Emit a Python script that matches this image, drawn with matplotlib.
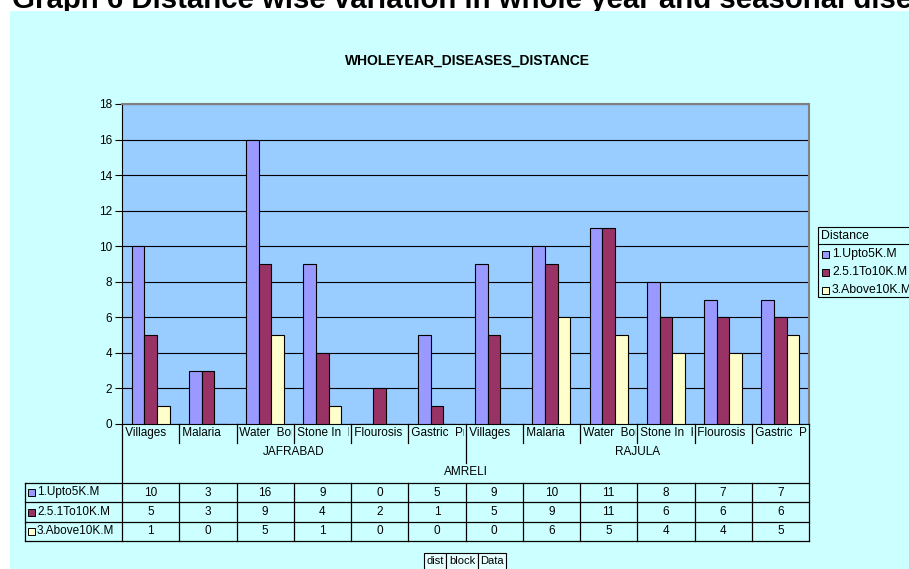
import matplotlib
matplotlib.use("Agg")
import matplotlib.pyplot as plt
from matplotlib import transforms
from matplotlib.patches import Rectangle
from matplotlib.lines import Line2D

plt.rcParams['font.family'] = ['Liberation Sans', 'DejaVu Sans']

# data
diseases = ['Villages', 'Malaria', 'Water  Borne', 'Stone In  Kidney', 'Flourosis', 'Gastric  Problem',
            'Villages', 'Malaria', 'Water  Borne', 'Stone In  Kidney', 'Flourosis', 'Gastric  Problem']
blocks = ['JAFRABAD', 'RAJULA']
district = 'AMRELI'
series_names = ['1.Upto5K.M', '2.5.1To10K.M', '3.Above10K.M']
upto5 = [10, 3, 16, 9, 0, 5, 9, 10, 11, 8, 7, 7]
to10 = [5, 3, 9, 4, 2, 1, 5, 9, 11, 6, 6, 6]
above10 = [1, 0, 5, 1, 0, 0, 0, 6, 5, 4, 4, 5]
colors = ['#9999FF', '#993366', '#FFFFCC']

W, H = 909, 569
def fx(px):
    return px / W
def fy(py):
    return 1 - py / H

fig = plt.figure(figsize=(W / 100, H / 100), dpi=100, facecolor='white')

# page heading (mostly cut off at the top) and cyan chart area
fig.text(fx(12), fy(8.5), 'Graph 6 Distance wise variation in whole year and seasonal diseases',
         fontsize=21.2, fontweight='bold', va='baseline', ha='left', zorder=-3)
fig.patches.append(Rectangle((fx(10), 0), 1, fy(11), transform=fig.transFigure,
                             facecolor='#CCFFFF', edgecolor='none', zorder=-2))

ax = fig.add_axes([fx(122), fy(424), fx(809) - fx(122), (424 - 104) / H])
ax.set_facecolor('#99CCFF')

x = list(range(len(diseases)))
bw = 0.22
all_series = [upto5, to10, above10]
for i, vals in enumerate(all_series):
    ax.bar([k + (i - 1) * bw for k in x], vals, width=bw, color=colors[i],
           edgecolor='black', linewidth=0.8, zorder=3)

ax.set_xlim(-0.5, len(diseases) - 0.5)
ax.set_ylim(0, 18)
ax.set_yticks(range(0, 19, 2))
ax.set_xticks([])
ax.tick_params(axis='y', direction='out', length=5, width=0.8, labelsize=8.5, pad=2)
ax.grid(axis='y', color='black', linewidth=0.8, zorder=1)
ax.set_axisbelow(True)
for s in ['top', 'right']:
    ax.spines[s].set_color('#808080')
    ax.spines[s].set_linewidth(1.5)
ax.spines['left'].set_linewidth(0.8)
ax.spines['bottom'].set_linewidth(0.8)

fig.text(fx(467), fy(61), 'WHOLEYEAR_DISEASES_DISTANCE', fontsize=10, fontweight='bold',
         ha='center', va='center')

blend = transforms.blended_transform_factory(ax.transData, fig.transFigure)
lw = 0.9

def vline(xd, py0, py1):
    fig.lines.append(Line2D([xd, xd], [fy(py0), fy(py1)], transform=blend, color='black', linewidth=lw))

def hline(px0, px1, py):
    fig.lines.append(Line2D([fx(px0), fx(px1)], [fy(py), fy(py)], transform=fig.transFigure,
                            color='black', linewidth=lw))

# category labels, clipped to their cells
for k, name in enumerate(diseases):
    t = fig.text(k - 0.5, fy(433), ' ' + name, transform=blend, fontsize=8.5, ha='left', va='center')
    clip = transforms.Bbox([[k - 0.5, fy(445)], [k + 0.47, fy(424)]])
    t.set_clip_box(transforms.TransformedBbox(clip, blend))
    t.set_clip_on(True)

# separators of the multi-level axis
for k in range(1, len(diseases)):
    if k == 6:
        vline(k - 0.5, 424, 463)
    else:
        vline(k - 0.5, 424, 443)
vline(-0.5, 424, 541)
vline(len(diseases) - 0.5, 424, 541)

fig.text(2.5, fy(452), blocks[0], transform=blend, fontsize=8.5, ha='center', va='center')
fig.text(8.5, fy(452), blocks[1], transform=blend, fontsize=8.5, ha='center', va='center')
fig.text(5.5, fy(472), district, transform=blend, fontsize=8.5, ha='center', va='center')

# data table
row_tops = [483, 502, 522, 541]
for py in row_tops:
    hline(25, 809, py)
fig.lines.append(Line2D([fx(25), fx(25)], [fy(483), fy(541)], transform=fig.transFigure,
                        color='black', linewidth=lw))
for k in range(1, len(diseases)):
    vline(k - 0.5, 483, 541)

for r, vals in enumerate(all_series):
    yc = (row_tops[r] + row_tops[r + 1]) / 2
    fig.patches.append(Rectangle((fx(28), fy(yc + 3.5)), 7 / W, 7 / H, transform=fig.transFigure,
                                 facecolor=colors[r], edgecolor='black', linewidth=0.7))
    fig.text(fx(37), fy(yc), series_names[r], fontsize=8.5, ha='left', va='center')
    for k, v in enumerate(vals):
        fig.text(k, fy(yc), str(v), transform=blend, fontsize=8.5, ha='center', va='center')

# legend
fig.patches.append(Rectangle((fx(818), fy(297)), 100 / W, 70 / H, transform=fig.transFigure,
                             facecolor='#CCFFFF', edgecolor='black', linewidth=0.8))
fig.lines.append(Line2D([fx(818), 1], [fy(244), fy(244)], transform=fig.transFigure,
                        color='black', linewidth=0.8))
fig.text(fx(821), fy(236), 'Distance', fontsize=8.8, ha='left', va='center')
for r, name in enumerate(series_names):
    yc = 254 + r * 18
    fig.patches.append(Rectangle((fx(822), fy(yc + 3.5)), 7 / W, 7 / H, transform=fig.transFigure,
                                 facecolor=colors[r], edgecolor='black', linewidth=0.7))
    fig.text(fx(832), fy(yc), name, fontsize=8.8, ha='left', va='center')

# pivot field buttons at the bottom
btn_x = [424, 446, 478, 506]
btn_txt = ['dist', 'block', 'Data']
for i, txt in enumerate(btn_txt):
    fig.patches.append(Rectangle((fx(btn_x[i]), fy(575)), (btn_x[i + 1] - btn_x[i]) / W, 22 / H,
                                 transform=fig.transFigure, facecolor='#E6FFFF',
                                 edgecolor='black', linewidth=0.8))
    fig.text(fx((btn_x[i] + btn_x[i + 1]) / 2), fy(561), txt, fontsize=8, ha='center', va='center')

fig.savefig('out.png', dpi=100)
